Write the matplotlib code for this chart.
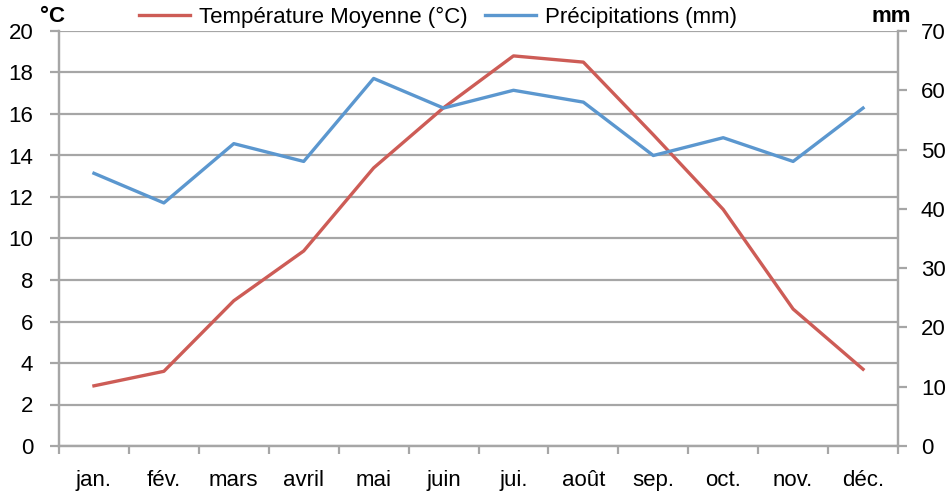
import matplotlib
matplotlib.use("Agg")
import matplotlib.pyplot as plt
from matplotlib import font_manager
import numpy as np

months = ["jan.", "fév.", "mars", "avril", "mai", "juin",
          "jui.", "août", "sep.", "oct.", "nov.", "déc."]
temperature = [2.9, 3.6, 7.0, 9.4, 13.4, 16.3, 18.8, 18.5, 15.0, 11.4, 6.6, 3.7]
precipitation = [46, 41, 51, 48, 62, 57, 60, 58, 49, 52, 48, 57]
temp_ticks = [0, 2, 4, 6, 8, 10, 12, 14, 16, 18, 20]
precip_ticks = [0, 10, 20, 30, 40, 50, 60, 70]

names = {f.name for f in font_manager.fontManager.ttflist}
family = "Liberation Sans Narrow" if "Liberation Sans Narrow" in names else "Liberation Sans"
plt.rcParams["font.family"] = [family, "DejaVu Sans"]

red = "#cd5c56"
blue = "#5b97cf"
grid_col = "#a6a6a6"
tick_fs = 16

fig = plt.figure(figsize=(9.5, 4.94), dpi=100)
ax = fig.add_axes([59 / 950, 1 - 446 / 494, (898 - 59) / 950, (446 - 31) / 494])
ax2 = ax.twinx()

x = np.arange(len(months))
ax.plot(x, temperature, color=red, lw=2.4, label="Température Moyenne (°C)", zorder=3)
ax2.plot(x, precipitation, color=blue, lw=2.4, label="Précipitations (mm)", zorder=3)

ax.set_xlim(-0.5, len(months) - 0.5)
ax.set_ylim(0, 20)
ax2.set_ylim(0, 70)

ax.set_yticks(temp_ticks)
ax2.set_yticks(precip_ticks)
ax.set_xticks(x)
ax.set_xticklabels(months)
ax.set_xticks(np.arange(-0.5, len(months), 1.0), minor=True)

ax.grid(axis="y", color=grid_col, lw=1.6)
ax.set_axisbelow(True)

for a in (ax, ax2):
    for s in a.spines.values():
        s.set_color(grid_col)
        s.set_linewidth(1.6)
    a.spines["top"].set_visible(False)

ax.tick_params(axis="x", which="major", length=0, labelsize=tick_fs, pad=17)
ax.tick_params(axis="x", which="minor", length=6, width=1.6, color=grid_col)
ax.tick_params(axis="y", length=6.5, width=1.6, color=grid_col, labelsize=tick_fs, pad=12)
ax2.tick_params(axis="y", length=6.5, width=1.6, color=grid_col, labelsize=tick_fs, pad=10)

fig.text(40 / 950, 1 - 17 / 494, "°C", fontsize=16, fontweight="bold", ha="left", va="center")
fig.text(911 / 950, 1 - 17 / 494, "mm", fontsize=16, fontweight="bold", ha="right", va="center")

h1, l1 = ax.get_legend_handles_labels()
h2, l2 = ax2.get_legend_handles_labels()
fig.legend(h1 + h2, l1 + l2, loc="center", bbox_to_anchor=(438 / 950, 1 - 17 / 494),
           ncol=2, frameon=False, fontsize=16, handlelength=2.3, columnspacing=0.8,
           handletextpad=0.4, borderaxespad=0)

fig.savefig("out.png", dpi=100)
